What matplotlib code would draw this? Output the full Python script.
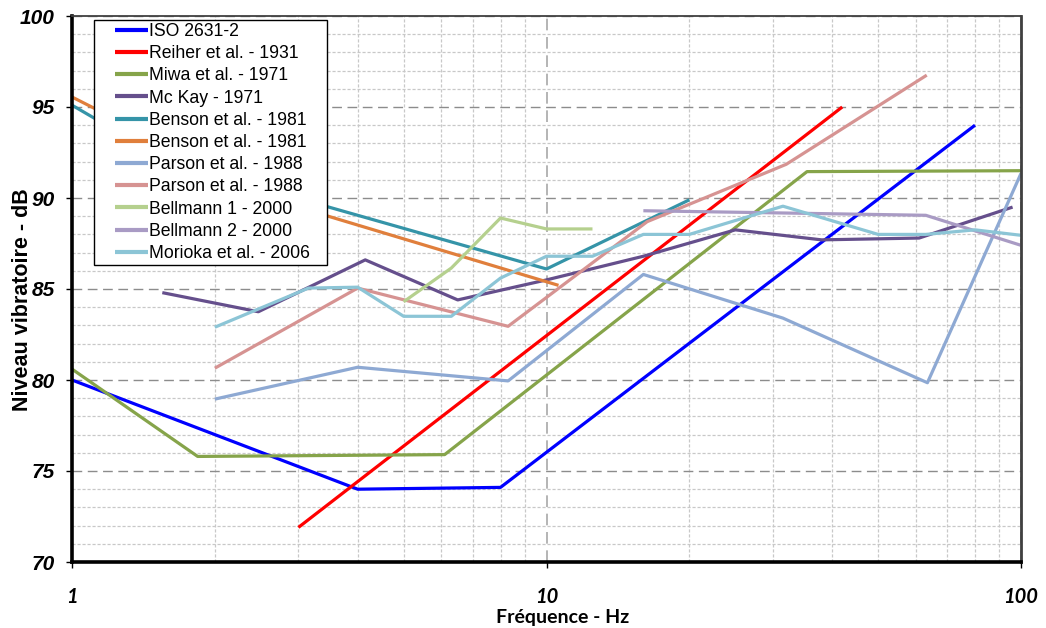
import matplotlib
matplotlib.use("Agg")
import matplotlib.pyplot as plt
from matplotlib.patches import Rectangle
from matplotlib.ticker import FixedLocator, NullFormatter

# values (frequency in Hz, level in dB)
iso_f = [1, 4, 8, 80]
iso_db = [80.0, 74.0, 74.1, 94.0]
reiher_f = [3, 42]
reiher_db = [71.9, 95.0]
miwa_f = [1, 1.84, 6.1, 35.4, 100]
miwa_db = [80.6, 75.8, 75.9, 91.45, 91.5]
mckay_f = [1.55, 2.47, 4.15, 6.5, 10, 16, 25, 38, 61, 96]
mckay_db = [84.8, 83.75, 86.6, 84.4, 85.5, 86.8, 88.25, 87.7, 87.8, 89.5]
benson1_f = [1, 1.6, 10, 20]
benson1_db = [95.1, 92.0, 86.1, 89.9]
benson2_f = [1, 2.7, 10.6]
benson2_db = [95.55, 89.85, 85.2]
parson1_f = [2, 4, 8.3, 16, 31.5, 63.5, 100]
parson1_db = [78.95, 80.7, 79.95, 85.8, 83.4, 79.85, 91.35]
parson2_f = [2, 4, 8.3, 16.3, 32, 63.3]
parson2_db = [80.65, 85.05, 82.95, 88.7, 91.85, 96.75]
bell1_f = [5, 6.3, 8, 10, 12.5]
bell1_db = [84.3, 86.15, 88.9, 88.3, 88.3]
bell2_f = [16, 63, 100]
bell2_db = [89.3, 89.05, 87.4]
morioka_f = [2, 3.15, 4, 5, 6.3, 8, 10, 12.5, 16, 20, 31.5, 50, 63, 80, 100]
morioka_db = [82.9, 85.05, 85.1, 83.5, 83.5, 85.6, 86.8, 86.8, 88.0, 88.0,
              89.55, 88.0, 88.0, 88.25, 87.95]

labels = ["ISO 2631-2", "Reiher et al. - 1931", "Miwa et al. - 1971",
          "Mc Kay - 1971", "Benson et al. - 1981", "Benson et al. - 1981",
          "Parson et al. - 1988", "Parson et al. - 1988", "Bellmann 1 - 2000",
          "Bellmann 2 - 2000", "Morioka et al. - 2006"]
colors = ["#0000FF", "#FF0000", "#86A44A", "#654F8C", "#3594A8", "#E07F3C",
          "#8EA9D3", "#D69392", "#B5D08E", "#A99BC4", "#8CC5D6"]

series = [(iso_f, iso_db), (reiher_f, reiher_db), (miwa_f, miwa_db),
          (mckay_f, mckay_db), (benson1_f, benson1_db), (benson2_f, benson2_db),
          (parson1_f, parson1_db), (parson2_f, parson2_db), (bell1_f, bell1_db),
          (bell2_f, bell2_db), (morioka_f, morioka_db)]

fig = plt.figure(figsize=(10.46, 6.28), dpi=100)
ax = fig.add_axes([72 / 1046, 1 - 562 / 628, 949 / 1046, 546 / 628])
px_x = 1 / 949  # one pixel in axes fraction
px_y = 1 / 546

for (f, db), lab, col in zip(series, labels, colors):
    ax.plot(f, db, color=col, lw=2.3, label=lab, solid_capstyle="butt")

ax.set_xscale("log")
ax.set_xlim(1, 100)
ax.set_ylim(70, 100)

ax.xaxis.set_major_locator(FixedLocator([1, 10, 100]))
ax.xaxis.set_minor_locator(FixedLocator([2, 3, 4, 5, 6, 7, 8, 9,
                                         20, 30, 40, 50, 60, 70, 80, 90]))
ax.xaxis.set_minor_formatter(NullFormatter())
ax.set_xticklabels(["1", "10", "100"])
ax.yaxis.set_major_locator(FixedLocator(range(70, 101, 5)))
ax.yaxis.set_minor_locator(FixedLocator(range(70, 101, 1)))

# grid
ax.set_axisbelow(True)
ax.grid(which="major", axis="y", color="#8C8C8C", lw=1.0, ls=(0, (7, 4)))
ax.grid(which="major", axis="x", color="#A8A8A8", lw=1.2, ls=(0, (7, 4)))
ax.grid(which="minor", axis="both", color="#C8C8C8", lw=0.9, ls=(0, (2.5, 1.5)))

ax.tick_params(axis="both", which="major", direction="out", length=4,
               width=1, color="black")
ax.tick_params(axis="both", which="minor", length=0)
ax.tick_params(axis="y", pad=8.5)
ax.tick_params(axis="x", pad=14)

for t in ax.get_yticklabels():
    t.set_family(["Liberation Sans", "DejaVu Sans"])
    t.set_fontweight("bold")
    t.set_fontstyle("italic")
    t.set_fontsize(15)
for t in ax.get_xticklabels():
    t.set_family(["Lato", "DejaVu Sans"])
    t.set_fontweight("bold")
    t.set_fontstyle("italic")
    t.set_fontsize(14.5)

ax.spines["left"].set_linewidth(2.6)
ax.spines["bottom"].set_linewidth(2.6)
ax.spines["left"].set_color("black")
ax.spines["bottom"].set_color("black")
ax.spines["top"].set_color("#404040")
ax.spines["top"].set_linewidth(1.3)
ax.spines["right"].set_color("#404040")
ax.spines["right"].set_linewidth(2.0)

ax.set_xlabel("Fréquence - Hz", fontsize=14, fontweight="bold",
              family=["Lato", "DejaVu Sans"])
ax.xaxis.set_label_coords(0.517, -0.086)
ax.set_ylabel("Niveau vibratoire - dB", fontsize=15.5, fontweight="bold",
              family=["Liberation Sans", "DejaVu Sans"])
ax.yaxis.set_label_coords(-0.041, 0.48)

# legend without its own frame; the box is drawn by hand so the margins
# can differ left/right like in the reference
leg = ax.legend(loc="upper left", bbox_to_anchor=(43 * px_x, 1 - 7 * px_y),
                borderaxespad=0, frameon=False, handlelength=1.85,
                handletextpad=0.05, labelspacing=0.295, borderpad=0,
                prop={"family": ["Liberation Sans", "DejaVu Sans"], "size": 12.7})
for line in leg.get_lines():
    line.set_linewidth(3.0)

fig.canvas.draw()
bb = leg.get_window_extent().transformed(ax.transAxes.inverted())
x0 = bb.x0 - 21 * px_x
x1 = bb.x1 + 18 * px_x
y0 = bb.y0 - 3 * px_y
y1 = bb.y1 + 3 * px_y
ax.add_patch(Rectangle((x0, y0), x1 - x0, y1 - y0, transform=ax.transAxes,
                       facecolor="white", edgecolor="black", lw=1.0,
                       zorder=4.5, clip_on=False))

fig.savefig("out.png", dpi=100)
